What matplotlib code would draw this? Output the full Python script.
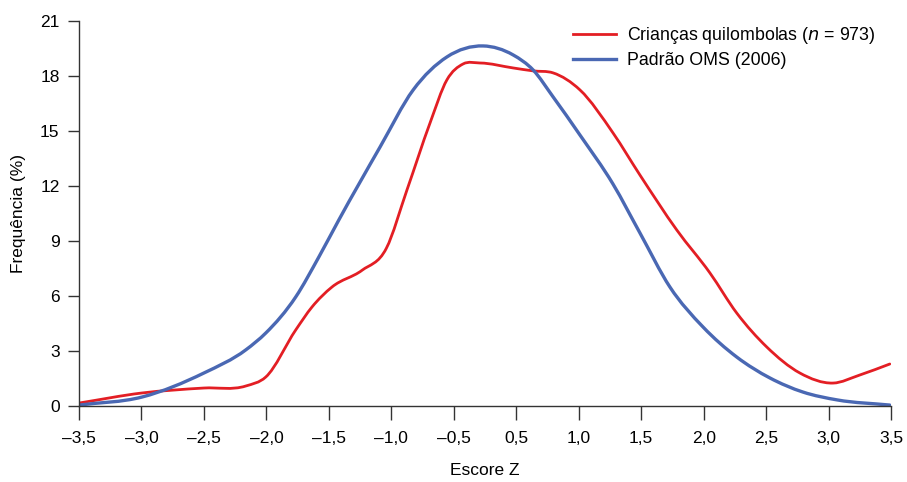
import matplotlib.pyplot as plt
import numpy as np
from matplotlib.path import Path
from matplotlib.patches import PathPatch
from matplotlib.lines import Line2D

plt.rcParams['font.family'] = ['Liberation Sans', 'DejaVu Sans']

# x tick labels (evenly spaced, no zero in the original axis)
tick_labels = ['–3,5', '–3,0', '–2,5', '–2,0', '–1,5', '–1,0', '–0,5',
               '0,5', '1,0', '1,5', '2,0', '2,5', '3,0', '3,5']
yticks = [0, 3, 6, 9, 12, 15, 18, 21]

# positions measured in tick-slot units (0 = first tick, 13 = last)
red_x = [0, 1.01, 2.0, 2.67, 2.99, 3.47, 3.73, 4.05, 4.53, 4.92, 5.25,
         5.62, 5.89, 6.15, 6.42, 6.95, 7.27, 7.59, 8.02, 8.55,
         8.98, 9.57, 10.10, 10.53, 11.01, 11.54, 12.07, 12.50, 12.98]
red_y = [0.16, 0.71, 0.98, 1.09, 1.58, 4.15, 5.4, 6.49, 7.4, 8.6, 11.78,
         15.44, 17.79, 18.66, 18.71, 18.44, 18.28, 18.17, 17.24, 14.89,
         12.6, 9.60, 7.26, 5.07, 3.22, 1.80, 1.25, 1.69, 2.29]

blue_x = [0, 1.01, 2.0, 2.67, 2.99, 3.47, 3.84, 4.16, 4.82, 5.35, 5.89, 6.47,
          6.95, 7.27, 7.59, 8.02, 8.55, 8.98, 9.46, 9.99, 10.53, 11.06, 11.59,
          12.14, 12.98]
blue_y = [0.05, 0.49, 1.80, 3.06, 3.98, 5.95, 8.13, 10.15, 14.13, 17.24, 19.04, 19.64,
          19.15, 18.33, 16.86, 14.78, 12.1, 9.44, 6.49, 4.31, 2.67, 1.53, 0.76,
          0.33, 0.05]


def smooth_path(xs, ys):
    # smoothed line through the points, drawn as cubic Bezier segments
    x = np.asarray(xs, float)
    y = np.asarray(ys, float)
    m = np.gradient(y, x)
    verts = [(x[0], y[0])]
    codes = [Path.MOVETO]
    for i in range(len(x) - 1):
        dx = (x[i + 1] - x[i]) / 3.0
        verts += [(x[i] + dx, y[i] + m[i] * dx),
                  (x[i + 1] - dx, y[i + 1] - m[i + 1] * dx),
                  (x[i + 1], y[i + 1])]
        codes += [Path.CURVE4] * 3
    return Path(verts, codes)


fig = plt.figure(figsize=(9.07, 4.82), dpi=100)
ax = fig.add_axes([0.0871, 0.1577, 0.8953, 0.7987])

red = '#e31e24'
blue = '#4a68b3'
ax.add_patch(PathPatch(smooth_path(red_x, red_y), fill=False, edgecolor=red, lw=2.0,
                       capstyle='round', joinstyle='round'))
ax.add_patch(PathPatch(smooth_path(blue_x, blue_y), fill=False, edgecolor=blue, lw=2.4,
                       capstyle='round', joinstyle='round'))

ax.set_xlim(0, 13)
ax.set_ylim(0, 21)
ax.set_xticks(range(len(tick_labels)))
ax.set_xticklabels(tick_labels)
ax.set_yticks(yticks)

for s in ['top', 'right']:
    ax.spines[s].set_visible(False)
for s in ['left', 'bottom']:
    ax.spines[s].set_color('#333333')
    ax.spines[s].set_linewidth(1.0)
ax.tick_params(axis='x', length=10, width=1, color='#333333', labelsize=12.5, pad=8)
ax.tick_params(axis='y', length=8, width=1, color='#333333', labelsize=12.5, pad=6)

ax.set_xlabel('Escore Z', fontsize=12.5, labelpad=12)
ax.set_ylabel('Frequência (%)', fontsize=12.5, labelpad=10)

handles = [Line2D([], [], color=red, lw=2.0), Line2D([], [], color=blue, lw=2.4)]
labels = ['Crianças quilombolas ($n$ = 973)', 'Padrão OMS (2006)']
ax.legend(handles, labels, loc='upper right', bbox_to_anchor=(1.0, 1.03), frameon=False,
          fontsize=12.8, handlelength=2.4, handletextpad=0.6, labelspacing=0.3)

fig.savefig('out.png', dpi=100)
